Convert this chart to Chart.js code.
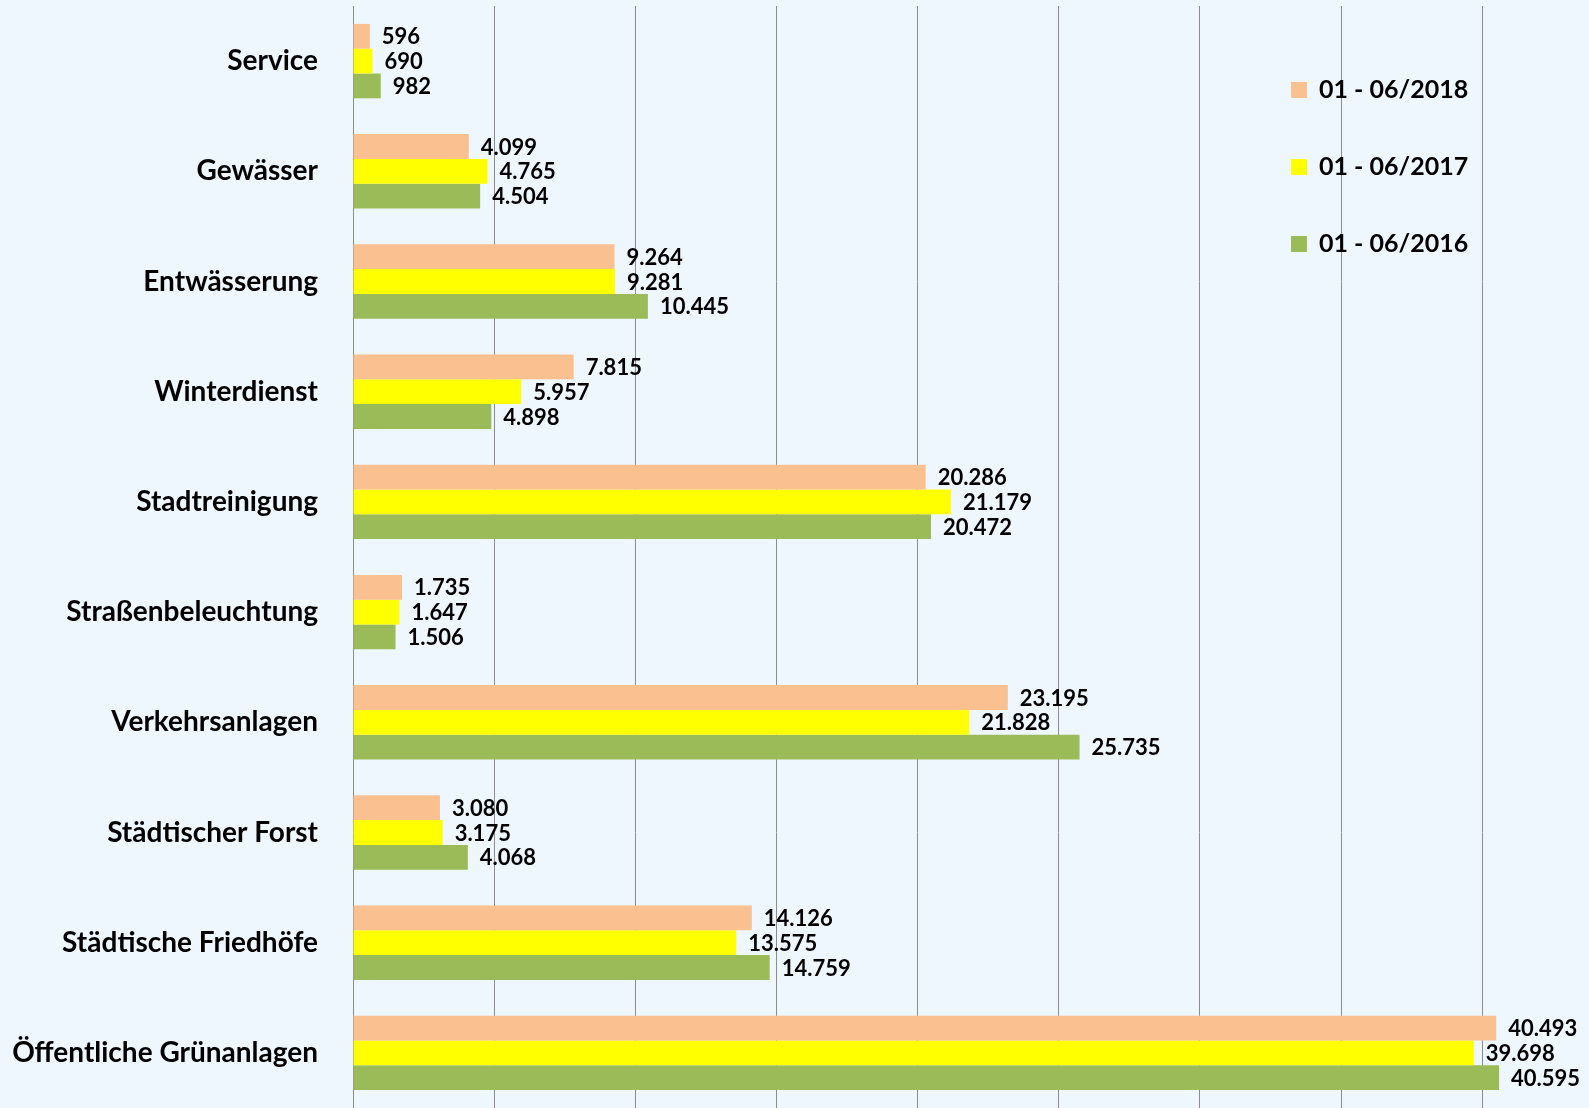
<!DOCTYPE html>
<html>
<head>
<meta charset="utf-8">
<script src="https://cdn.jsdelivr.net/npm/chart.js@4"></script>
<style>
html,body{margin:0;padding:0;background:#EEF6FE;}
#wrap{width:1589px;height:1108px;}
</style>
</head>
<body>
<div id="wrap"><canvas id="plot" width="1589" height="1108"></canvas></div>
<script>
// categories top to bottom
const categories = ['Service','Gewässer','Entwässerung','Winterdienst','Stadtreinigung',
  'Straßenbeleuchtung','Verkehrsanlagen','Städtischer Forst','Städtische Friedhöfe','Öffentliche Grünanlagen'];
const seriesNames = ['01 - 06/2018','01 - 06/2017','01 - 06/2016'];
const values2018 = [596,4099,9264,7815,20286,1735,23195,3080,14126,40493];
const values2017 = [690,4765,9281,5957,21179,1647,21828,3175,13575,39698];
const values2016 = [982,4504,10445,4898,20472,1506,25735,4068,14759,40595];
const gridValues = [0,5000,10000,15000,20000,25000,30000,35000,40000];
const colors = ['#FAC090','#FFFF00','#9BBB59'];

const FONT = 'Lato';

function fmt(v){
  return v.toString().replace(/\B(?=(\d{3})+(?!\d))/g,'.');
}

// value labels right of each bar
const valueLabels = {
  id:'valueLabels',
  afterDatasetsDraw(chart){
    const ctx = chart.ctx;
    ctx.save();
    ctx.font = 'bold 22px ' + FONT;
    ctx.fillStyle = '#000';
    ctx.textBaseline = 'middle';
    ctx.textAlign = 'left';
    chart.data.datasets.forEach((ds,i)=>{
      chart.getDatasetMeta(i).data.forEach((bar,j)=>{
        ctx.fillText(fmt(ds.data[j]), bar.x + 12, bar.y + 1);
      });
    });
    ctx.restore();
  }
};

// legend on the right, squares + text
const sideLegend = {
  id:'sideLegend',
  afterDraw(chart){
    const ctx = chart.ctx;
    const ys = [90, 167, 244];
    ctx.save();
    ctx.font = 'bold 25px ' + FONT;
    ctx.textBaseline = 'middle';
    seriesNames.forEach((name,i)=>{
      ctx.fillStyle = colors[i];
      ctx.fillRect(1291, ys[i]-8, 16, 16);
      ctx.fillStyle = '#000';
      ctx.fillText(name, 1319, ys[i]);
    });
    ctx.restore();
  }
};

const data = {
  labels: categories,
  datasets: [
    {label: seriesNames[0], data: values2018, backgroundColor: colors[0]},
    {label: seriesNames[1], data: values2017, backgroundColor: colors[1]},
    {label: seriesNames[2], data: values2016, backgroundColor: colors[2]}
  ]
};

const config = {
  type: 'bar',
  data: data,
  options: {
    indexAxis: 'y',
    responsive: false,
    animation: false,
    layout: {padding: {top: 6, bottom: 0, left: 0, right: 0}},
    datasets: {bar: {barPercentage: 1, categoryPercentage: 0.675, borderWidth: 0}},
    plugins: {legend: {display: false}, tooltip: {enabled: false}},
    scales: {
      x: {
        type: 'linear',
        min: 0,
        max: 43780,
        afterBuildTicks: (scale)=>{
          scale.ticks = gridValues.map(v=>({value: v}));
        },
        ticks: {display: false},
        grid: {color: '#8C8C8C', lineWidth: 1, drawTicks: false},
        border: {display: false}
      },
      y: {
        afterFit: (scale)=>{ scale.width = 353; scale.paddingTop = 0; scale.paddingBottom = 0; },
        grid: {display: false, drawTicks: false},
        border: {display: false},
        ticks: {
          color: '#000',
          padding: 35,
          font: {family: FONT, size: 28, weight: 'bold'}
        }
      }
    }
  },
  plugins: [valueLabels, sideLegend]
};

let ctx = document.getElementById('plot').getContext('2d');
let chart = new Chart(ctx, config);
</script>
</body>
</html>
